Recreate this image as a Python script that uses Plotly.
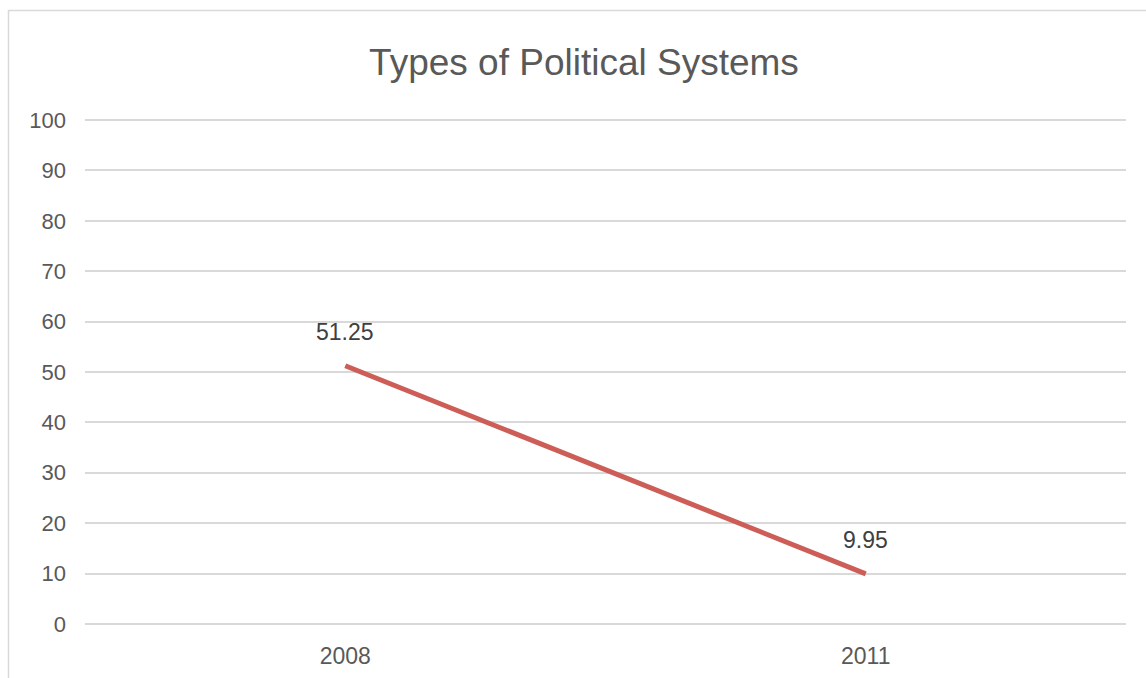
import plotly.graph_objects as go

# Chart data
years = ["2008", "2011"]
values = [51.25, 9.95]
value_labels = ["51.25", "9.95"]
y_ticks = [0, 10, 20, 30, 40, 50, 60, 70, 80, 90, 100]

W, H = 1146, 678
Y_PAD = 1.0                      # value-axis padding so edge gridlines show
PX_PER_UNIT = 504 / 100
pad_px = Y_PAD * PX_PER_UNIT
L, R = 85, 20
T, B = 120 - pad_px, 54 - pad_px
plot_w = W - L - R
plot_h = H - T - B
FONT = "Liberation Sans, Arial"

fig = go.Figure()
fig.add_trace(go.Scatter(
    x=years,
    y=values,
    mode="lines",
    line=dict(color="#CD5E57", width=5),
    cliponaxis=False,
    hoverinfo="skip",
))

# Value labels sitting above each point (category index positions)
for i, (v, lbl) in enumerate(zip(values, value_labels)):
    fig.add_annotation(
        x=i, y=v, xref="x", yref="y", text=lbl, showarrow=False,
        yshift=34, xanchor="center", yanchor="middle",
        font=dict(family=FONT, size=23, color="#404040"),
    )


def px_to_paper_x(px):
    return (px - L) / plot_w


def px_to_paper_y(py):
    return (H - B - py) / plot_h


# Outer chart frame
fig.add_shape(
    type="rect", xref="paper", yref="paper",
    x0=px_to_paper_x(8.5), x1=px_to_paper_x(1200),
    y0=px_to_paper_y(10.5), y1=px_to_paper_y(720),
    line=dict(color="#D9D9D9", width=1.5),
    layer="below",
)

fig.update_layout(
    width=W, height=H,
    margin=dict(l=L, r=R, t=T, b=B, autoexpand=False),
    paper_bgcolor="white",
    plot_bgcolor="white",
    showlegend=False,
    title=dict(
        text="Types of Political Systems",
        x=px_to_paper_x(584), xref="paper", xanchor="center",
        y=1 - 62 / H, yanchor="middle",
        font=dict(family=FONT, size=37, color="#595959"),
    ),
    xaxis=dict(
        type="category",
        range=[-0.5, 1.5],
        showgrid=False,
        zeroline=False,
        showline=False,
        ticks="",
        tickfont=dict(family=FONT, size=23, color="#595959"),
        ticklabelstandoff=11,
    ),
    yaxis=dict(
        range=[-Y_PAD, 100 + Y_PAD],
        tickvals=y_ticks,
        showgrid=True,
        gridcolor="#D9D9D9",
        gridwidth=1.5,
        zeroline=False,
        showline=False,
        ticks="",
        tickfont=dict(family=FONT, size=22, color="#595959"),
        ticklabelstandoff=18,
    ),
)

fig.write_html("out.html")
